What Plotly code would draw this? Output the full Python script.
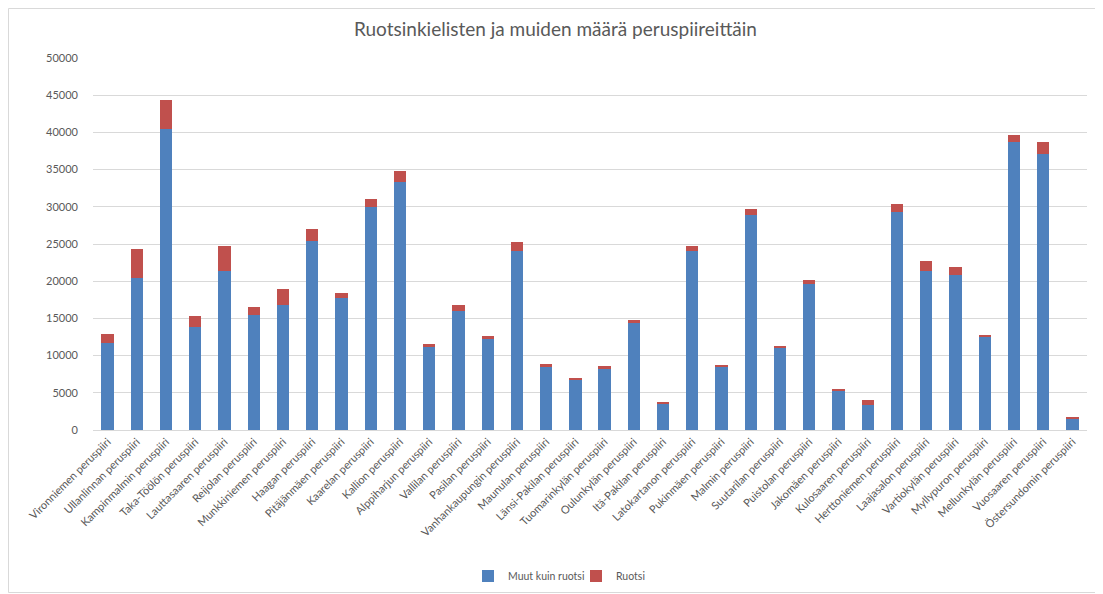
import plotly.graph_objects as go

categories = [
    "Vironniemen peruspiiri", "Ullanlinnan peruspiiri", "Kampinmalmin peruspiiri",
    "Taka-Töölön peruspiiri", "Lauttasaaren peruspiiri", "Reijolan peruspiiri",
    "Munkkiniemen peruspiiri", "Haagan peruspiiri", "Pitäjänmäen peruspiiri",
    "Kaarelan peruspiiri", "Kallion peruspiiri", "Alppiharjun peruspiiri",
    "Vallilan peruspiiri", "Pasilan peruspiiri", "Vanhankaupungin peruspiiri",
    "Maunulan peruspiiri", "Länsi-Pakilan peruspiiri", "Tuomarinkylän peruspiiri",
    "Oulunkylän peruspiiri", "Itä-Pakilan peruspiiri", "Latokartanon peruspiiri",
    "Pukinmäen peruspiiri", "Malmin peruspiiri", "Suutarilan peruspiiri",
    "Puistolan peruspiiri", "Jakomäen peruspiiri", "Kulosaaren peruspiiri",
    "Herttoniemen peruspiiri", "Laajasalon peruspiiri", "Vartiokylän peruspiiri",
    "Myllypuron peruspiiri", "Mellunkylän peruspiiri", "Vuosaaren peruspiiri",
    "Östersundomin peruspiiri",
]

muut = [11700, 20400, 40450, 13850, 21400, 15450, 16850, 25450, 17750, 29950,
        33300, 11100, 16000, 12250, 24000, 8450, 6800, 8250, 14400, 3500,
        24100, 8500, 28850, 11100, 19650, 5250, 3300, 29350, 21400, 20800,
        12500, 38700, 37100, 1500]

ruotsi = [1250, 3900, 3900, 1450, 3300, 1150, 2100, 1600, 700, 1050,
          1450, 400, 850, 400, 1300, 450, 200, 350, 450, 130,
          600, 150, 850, 250, 450, 130, 700, 1050, 1350, 1150,
          270, 900, 1550, 250]

y_ticks = [0, 5000, 10000, 15000, 20000, 25000, 30000, 35000, 40000, 45000, 50000]

FONT = "Lato"
GREY = "#595959"

fig = go.Figure()
fig.add_trace(go.Bar(name="Muut kuin ruotsi", x=categories, y=muut,
                     marker=dict(color="#4F81BD", line=dict(width=0))))
fig.add_trace(go.Bar(name="Ruotsi", x=categories, y=ruotsi,
                     marker=dict(color="#C0504D", line=dict(width=0))))

OFF = 8  # page body margin
W, H = 1103 - OFF, 594 - OFF
ml, mr, mt, mb = 93 - OFF, 16, 58 - OFF, 164
pw, ph = W - ml - mr, H - mt - mb

fig.update_layout(
    barmode="stack",
    bargap=0.58,
    width=W, height=H,
    margin=dict(l=ml, r=mr, t=mt, b=mb, autoexpand=False),
    paper_bgcolor="white", plot_bgcolor="white",
    font=dict(family=FONT, color=GREY, size=11),
    title=dict(text="Ruotsinkielisten ja muiden määrä peruspiireittäin",
               x=0.5, xanchor="center", y=1 - (29 - OFF) / H, yanchor="middle",
               font=dict(family=FONT, size=19, color=GREY)),
    xaxis=dict(tickangle=-45, showgrid=False, showline=True, linecolor="#D9D9D9",
               tickfont=dict(size=11, color=GREY), ticks=""),
    yaxis=dict(range=[0, 50000], tickvals=y_ticks, ticktext=[str(v) for v in y_ticks],
               showgrid=True, gridcolor="#D9D9D9", gridwidth=1, zeroline=False,
               tickfont=dict(size=11, color=GREY), ticks="", ticklabelstandoff=14),
    legend=dict(orientation="h", x=(468 - OFF - ml) / pw, xanchor="left",
                y=(430 - 576) / ph, yanchor="middle",
                font=dict(size=10.5, color=GREY), traceorder="normal", itemwidth=30,
                entrywidth=63, entrywidthmode="pixels"),
    showlegend=True,
    shapes=[dict(type="rect", xref="paper", yref="paper",
                 x0=(0.5 - ml) / pw, x1=(W - 1.5 - ml) / pw,
                 y0=-(mb - 1.5) / ph, y1=1 + (mt - 0.5) / ph,
                 line=dict(color="#D9D9D9", width=1), fillcolor="rgba(0,0,0,0)", layer="below")],
)

fig.write_html("out.html")
